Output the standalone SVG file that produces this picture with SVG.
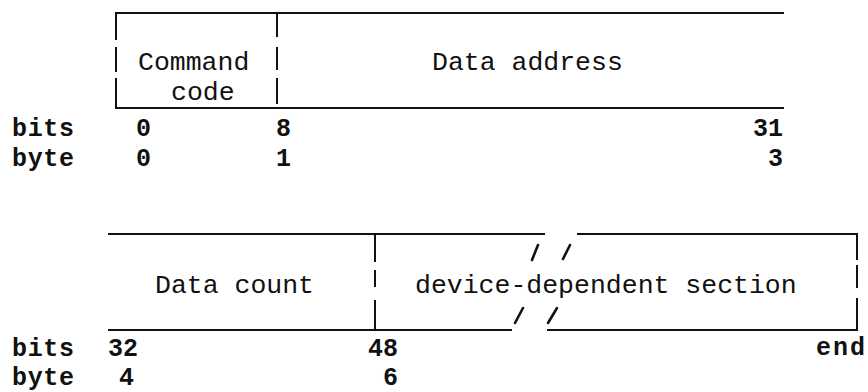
<svg xmlns="http://www.w3.org/2000/svg" width="868" height="392" viewBox="0 0 868 392">
<style>
  .t { font-family: "Liberation Mono", "Courier New", monospace; font-size: 26.5px; fill: #111; }
  .s { font-family: "Liberation Mono", "Courier New", monospace; font-size: 25px; fill: #111; font-weight: bold; }
  .ln { stroke: #111; stroke-width: 2; fill: none; }
  .sl { stroke: #111; stroke-width: 2.6; fill: none; stroke-linecap: round; }
</style>
<rect width="868" height="392" fill="#fff"/>

<g id="word1">
  <g id="command-code">
    <path class="ln" d="M115 13 H277 M115 108 H277"/>
    <path class="ln" d="M116 13 V40 M116 47 V72 M116 78 V108"/>
    <path class="ln" d="M277 13 V37 M277 47 V70 M277 78 V104"/>
    <text class="t" x="138" y="70">Command</text>
    <text class="t" x="171" y="100">code</text>
  </g>
  <g id="data-address">
    <path class="ln" d="M277 13 H784 M277 108 H784"/>
    <text class="t" x="432" y="70">Data address</text>
  </g>
  <g id="scale1">
    <text class="s" x="12" y="136" textLength="62">bits</text>
    <text class="s" x="12" y="166" textLength="62">byte</text>
    <text class="s" x="136" y="136">0</text>
    <text class="s" x="136" y="166">0</text>
    <text class="s" x="276" y="136">8</text>
    <text class="s" x="276" y="166">1</text>
    <text class="s" x="783" y="136" text-anchor="end">31</text>
    <text class="s" x="783" y="166" text-anchor="end">3</text>
  </g>
</g>

<g id="word2">
  <g id="data-count">
    <path class="ln" d="M108 234 H375 M108 330 H375"/>
    <text class="t" x="155" y="293">Data count</text>
  </g>
  <g id="device-dependent">
    <path class="ln" d="M375 234 V262 M375 270 V287 M375 300 V330"/>
    <path class="ln" d="M375 234 H545 M577 234 H857 M375 330 H512 M547 330 H857"/>
    <path class="ln" d="M857 233 V260 M857 265 V288 M857 298 V331"/>
    <path class="sl" d="M532 260 L538 245 M563 259 L570 245 M515 323 L523 308 M548 323 L557 308"/>
    <text class="t" x="415" y="293">device-dependent section</text>
  </g>
  <g id="scale2">
    <text class="s" x="12" y="356" textLength="62">bits</text>
    <text class="s" x="12" y="385" textLength="62">byte</text>
    <text class="s" x="108" y="356">32</text>
    <text class="s" x="119" y="385">4</text>
    <text class="s" x="368" y="356">48</text>
    <text class="s" x="383" y="385">6</text>
    <text class="s" x="816" y="355" textLength="49">end</text>
  </g>
</g>

<g id="connectors"/>
</svg>
